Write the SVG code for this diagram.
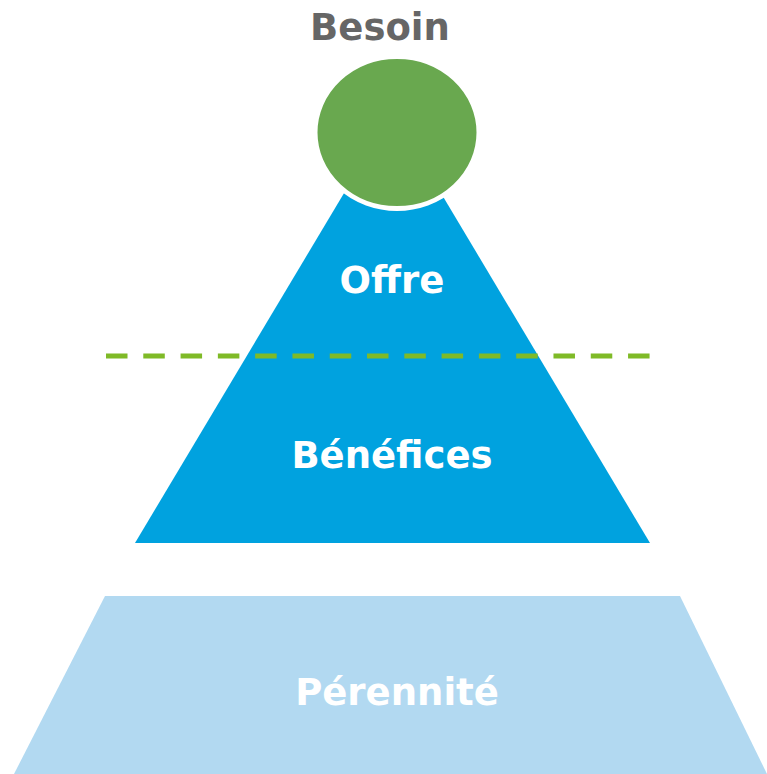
<svg xmlns="http://www.w3.org/2000/svg" width="767" height="774" viewBox="0 0 767 774">
<style>
.lbl{font-family:"DejaVu Sans","Verdana",sans-serif;font-weight:bold;font-size:37px;text-anchor:middle}
.w{fill:#ffffff}
</style>
<rect width="767" height="774" fill="#ffffff"/>
<g id="perennite">
<polygon points="105,596 680,596 767,774 14,774" fill="#B2D9F1"/>
<text class="lbl w" x="397" y="705">Pérennité</text>
</g>
<g id="pyramide">
<polygon points="392.5,112 650,543 135,543" fill="#00A2DF"/>
<text class="lbl w" x="392" y="293">Offre</text>
<text class="lbl w" x="392" y="468">Bénéfices</text>
</g>
<g id="connectors">
<line x1="106" y1="356" x2="650" y2="356" stroke="#7FBA27" stroke-width="5" stroke-dasharray="21.5 15.79"/>
</g>
<g id="besoin">
<ellipse cx="397" cy="132.5" rx="82" ry="76" fill="#69A84F" stroke="#ffffff" stroke-width="5"/>
<text class="lbl" x="380" y="40" fill="#666666">Besoin</text>
</g>
</svg>
